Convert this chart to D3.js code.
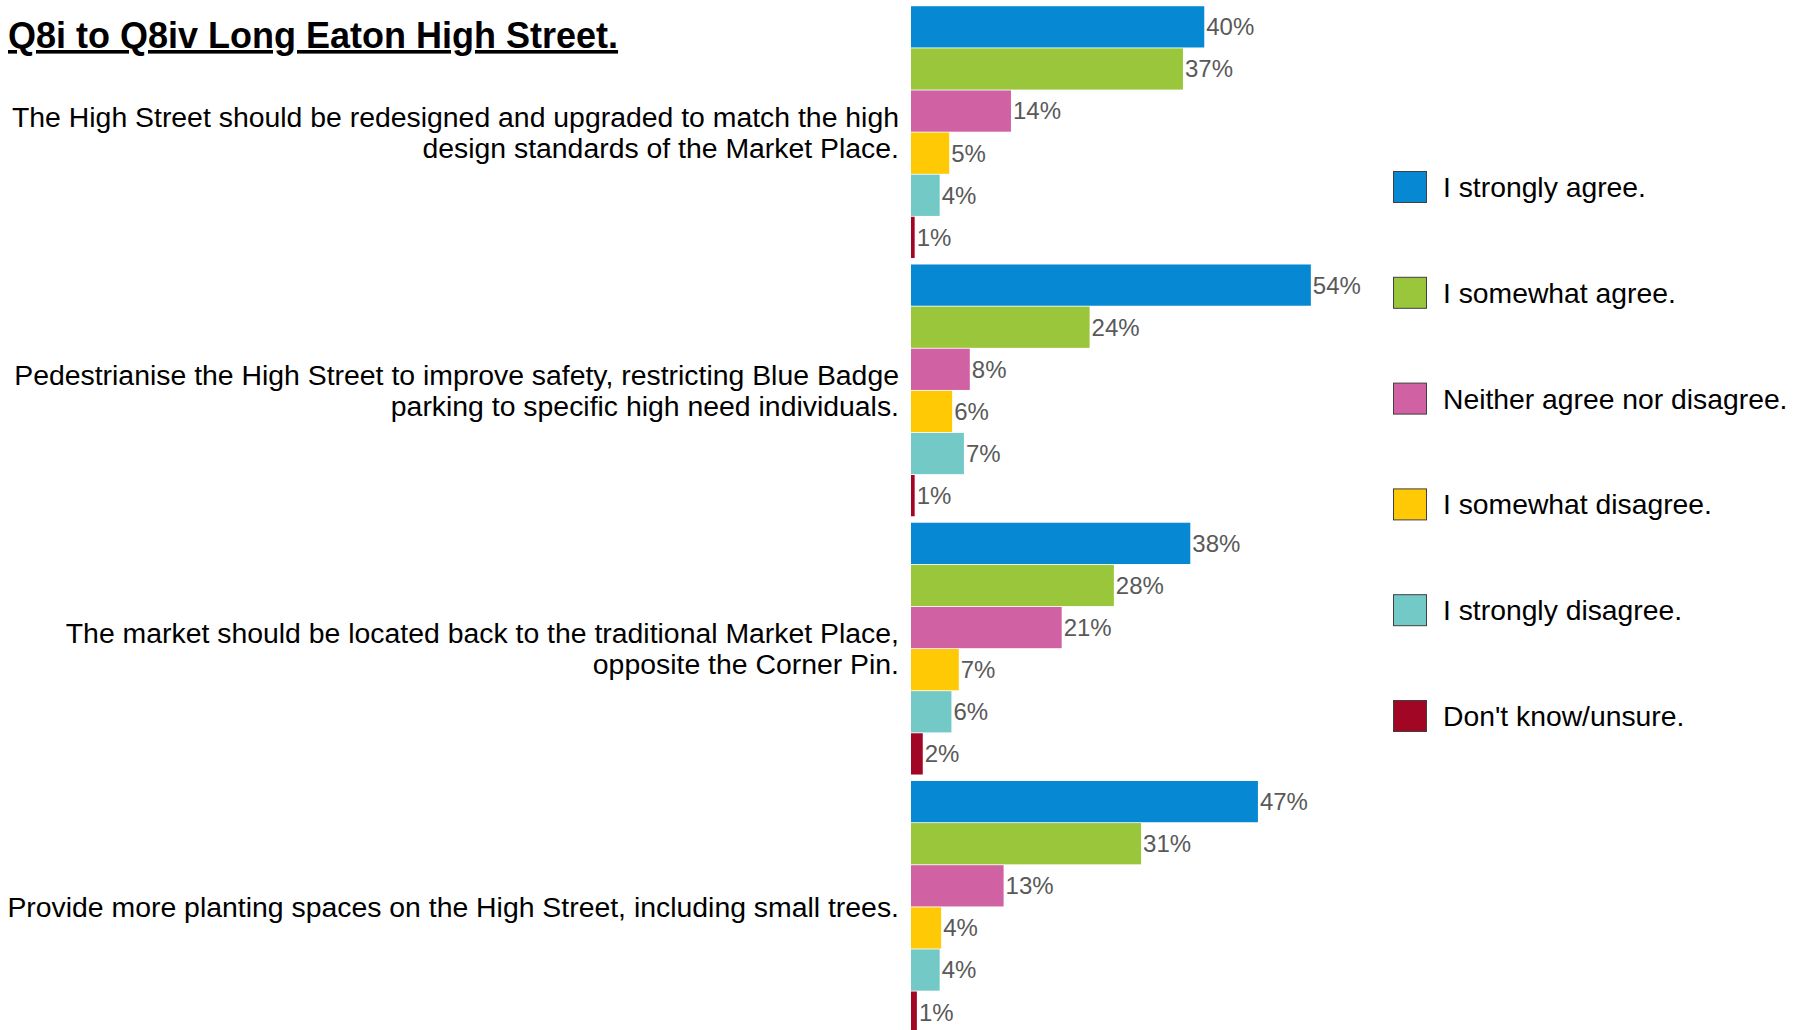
<!DOCTYPE html>
<html>
<head>
<meta charset="utf-8">
<script src="https://cdn.jsdelivr.net/npm/d3@7"></script>
<style>
    body { margin: 0; background: #fff; }
    text { font-family: "Liberation Sans", Arial, sans-serif; }
</style>
</head>
<body>
<div id="chart"></div>
<script>
// questions (each is a list of lines)
var questions = [
    ["The High Street should be redesigned and upgraded to match the high", "design standards of the Market Place."],
    ["Pedestrianise the High Street to improve safety, restricting Blue Badge", "parking to specific high need individuals."],
    ["The market should be located back to the traditional Market Place,", "opposite the Corner Pin."],
    ["Provide more planting spaces on the High Street, including small trees."]
];

var responses = ["I strongly agree.", "I somewhat agree.", "Neither agree nor disagree.",
    "I somewhat disagree.", "I strongly disagree.", "Don't know/unsure."];

var colours = ["#0689d2", "#9ac63c", "#d062a4", "#ffc906", "#72c9c6", "#a10724"];

// percent of respondents per question, in response order
var q1 = [39.9, 37.0, 13.6, 5.2, 3.9, 0.5];
var q2 = [54.4, 24.3, 8.0, 5.6, 7.2, 0.5];
var q3 = [38.0, 27.6, 20.5, 6.5, 5.5, 1.6];
var q4 = [47.2, 31.3, 12.6, 4.1, 3.9, 0.8];

var title = "Q8i to Q8iv Long Eaton High Street.";

function init() {
    var width = 1800;
    var height = 1030;

    var svg = d3.select("#chart")
        .append("svg")
        .attr("width", width)
        .attr("height", height);

    var series = [q1, q2, q3, q4];
    var ids = d3.range(questions.length);

    var x = d3.scaleLinear()
        .domain([0, 60])
        .range([911, 911 + 441]);

    var y0 = d3.scaleBand()
        .domain(ids)
        .range([3, 1036])
        .paddingInner(0.025)
        .paddingOuter(0.0125);

    var y1 = d3.scaleBand()
        .domain(d3.range(responses.length))
        .range([0, y0.bandwidth()])
        .paddingInner(0.02);

    var color = d3.scaleOrdinal()
        .domain(d3.range(responses.length))
        .range(colours);

    // title
    svg.append("text")
        .attr("x", 8)
        .attr("y", 48)
        .attr("font-size", 36)
        .attr("font-weight", "bold")
        .style("text-decoration", "underline")
        .attr("fill", "#000")
        .text(title);

    var groups = svg.selectAll("g.question")
        .data(ids)
        .enter()
        .append("g")
        .attr("class", "question")
        .attr("transform", function (d) { return "translate(0," + y0(d) + ")"; });

    // question labels, centred on the group
    groups.append("text")
        .attr("text-anchor", "end")
        .attr("font-size", 28.4)
        .attr("fill", "#000")
        .each(function (d) {
            var lines = questions[d];
            var lh = 31;
            var mid = y0.bandwidth() / 2;
            d3.select(this).selectAll("tspan")
                .data(lines)
                .enter()
                .append("tspan")
                .attr("x", 899)
                .attr("y", function (l, i) { return mid + (i - (lines.length - 1) / 2) * lh; })
                .attr("dy", "0.35em")
                .text(function (l) { return l; });
        });

    var bars = groups.selectAll("g.bar")
        .data(function (d) { return series[d].map(function (v, i) { return { i: i, v: v }; }); })
        .enter()
        .append("g")
        .attr("class", "bar");

    bars.append("rect")
        .attr("x", x(0))
        .attr("y", function (d) { return y1(d.i); })
        .attr("height", y1.bandwidth())
        .attr("width", function (d) { return x(d.v) - x(0); })
        .attr("fill", function (d) { return color(d.i); });

    bars.append("text")
        .attr("x", function (d) { return x(d.v) + 2; })
        .attr("y", function (d) { return y1(d.i) + y1.bandwidth() / 2; })
        .attr("dy", "0.35em")
        .attr("font-size", 24)
        .attr("fill", "#595959")
        .text(function (d) { return Math.round(d.v) + "%"; });

    // legend
    var legend = svg.selectAll("g.legend")
        .data(responses)
        .enter()
        .append("g")
        .attr("class", "legend")
        .attr("transform", function (d, i) { return "translate(1393," + (187 + i * 105.8) + ")"; });

    legend.append("rect")
        .attr("x", 0.5)
        .attr("y", -15.5)
        .attr("width", 33)
        .attr("height", 31)
        .attr("fill", function (d, i) { return color(i); })
        .attr("stroke", "#404040")
        .attr("stroke-width", 1);

    legend.append("text")
        .attr("x", 50)
        .attr("y", 0)
        .attr("dy", "0.35em")
        .attr("font-size", 28.3)
        .attr("fill", "#000")
        .text(function (d) { return d; });
}

window.onload = init;
</script>
</body>
</html>
